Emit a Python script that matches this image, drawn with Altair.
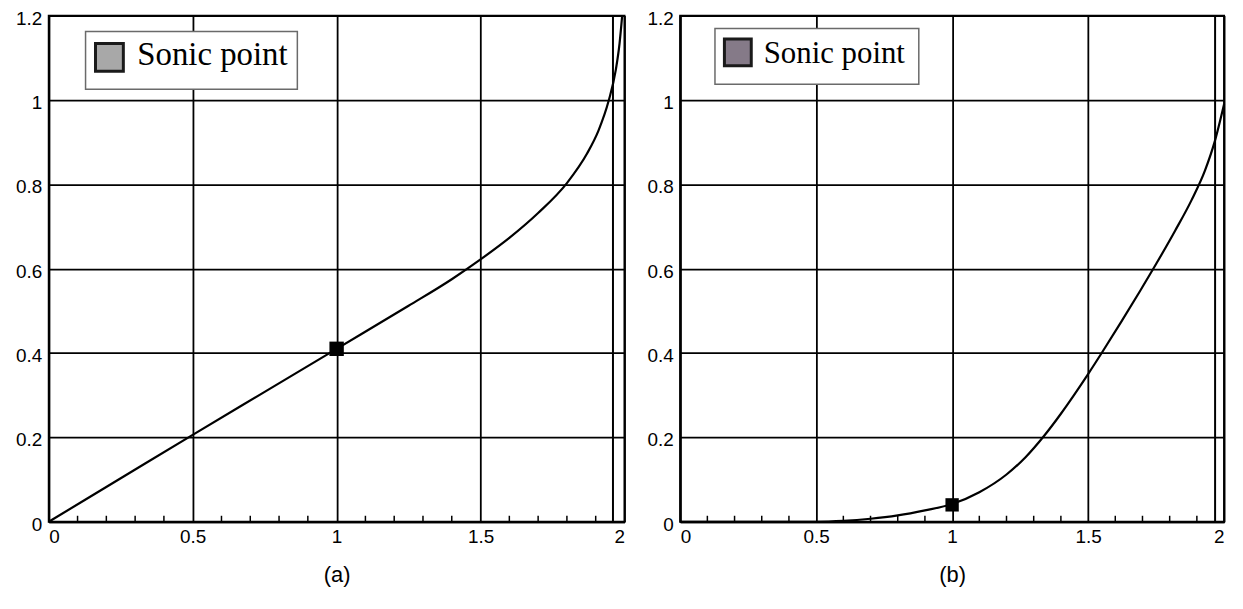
import altair as alt
import pandas as pd

# ---- data ----
xa = [0, 0.25, 0.5, 0.75, 1.0, 1.25, 1.4, 1.5, 1.6, 1.7, 1.8, 1.87, 1.91, 1.945, 1.97, 1.983, 1.992]
ya = [0, 0.103, 0.206, 0.308, 0.41, 0.512, 0.575, 0.622, 0.673, 0.732, 0.803, 0.873, 0.928, 0.998, 1.072, 1.135, 1.2]

xb = [0, 0.5, 0.6, 0.7, 0.8, 0.9, 1.0, 1.1, 1.2, 1.27, 1.34, 1.4, 1.45, 1.5, 1.55, 1.62, 1.69, 1.75, 1.82, 1.88, 1.93, 1.965, 2.0]
yb = [0, 0, 0.002, 0.007, 0.015, 0.027, 0.042, 0.07, 0.112, 0.153, 0.205, 0.256, 0.302, 0.35, 0.40, 0.472, 0.546, 0.611, 0.69, 0.762, 0.833, 0.9, 0.99]

sonic_a = [1.0, 0.41]
sonic_b = [1.0, 0.04]
asym_a = [1.96]
asym_b = [1.967]

x_ticks = [0, 0.5, 1, 1.5, 2]
y_ticks = [0, 0.2, 0.4, 0.6, 0.8, 1, 1.2]
minor_x = [0.1, 0.2, 0.3, 0.4, 0.6, 0.7, 0.8, 0.9, 1.1, 1.2, 1.3, 1.4, 1.6, 1.7, 1.8, 1.9]
captions = ["(a)", "(b)"]
legend_label = ["Sonic point"]

H = 509


def panel(xs, ys, sonic, asym, caption, width, lg, sq_fill, marker_size):
    xsc = alt.Scale(domain=[0, 2], nice=False, zero=False)
    ysc = alt.Scale(domain=[0, 1.2], nice=False, zero=False)
    xaxis = alt.Axis(values=x_ticks, format="~g", grid=True, ticks=False,
                     labelPadding=6, title=caption, titleFont="Liberation Sans",
                     titleFontSize=22, titleFontWeight="normal", titlePadding=18,
                     titleColor="black")
    yaxis = alt.Axis(values=y_ticks, format="~g", grid=True, ticks=False,
                     labelPadding=7, labelOffset=2.5, title=None)

    curve = alt.Chart(pd.DataFrame({"x": xs, "y": ys})).mark_line(
        color="black", strokeWidth=2.2, interpolate="monotone"
    ).encode(x=alt.X("x:Q", scale=xsc, axis=xaxis), y=alt.Y("y:Q", scale=ysc, axis=yaxis))

    asym_rule = alt.Chart(pd.DataFrame({"x": asym})).mark_rule(
        color="black", strokeWidth=2
    ).encode(x=alt.X("x:Q", scale=xsc, axis=xaxis))

    minor = alt.Chart(pd.DataFrame({"x": minor_x})).mark_rule(
        color="black", strokeWidth=1.5
    ).encode(x=alt.X("x:Q", scale=xsc, axis=xaxis), y=alt.value(H), y2=alt.value(H - 6))

    marker = alt.Chart(pd.DataFrame({"x": [sonic[0]], "y": [sonic[1]]})).mark_square(
        color="black", opacity=1, size=marker_size
    ).encode(x=alt.X("x:Q", scale=xsc, axis=xaxis), y=alt.Y("y:Q", scale=ysc, axis=yaxis))

    ldf = pd.DataFrame({"label": legend_label})
    box = alt.Chart(ldf).mark_rect(fill="white", stroke="#6a6a6a", strokeWidth=1.5).encode(
        x=alt.value(lg["x1"]), x2=alt.value(lg["x2"]), y=alt.value(lg["y1"]), y2=alt.value(lg["y2"])
    )
    sq = alt.Chart(ldf).mark_square(fill=sq_fill, stroke="#1a1a1a", strokeWidth=3,
                                    opacity=1, size=lg["sq"] ** 2).encode(
        x=alt.value(lg["sx"]), y=alt.value(lg["sy"])
    )
    txt = alt.Chart(ldf).mark_text(align="left", baseline="alphabetic",
                                   font="Liberation Serif", fontSize=lg["fs"],
                                   color="black").encode(
        x=alt.value(lg["tx"]), y=alt.value(lg["ty"]), text="label:N"
    )

    return alt.layer(asym_rule, minor, curve, marker, box, sq, txt).properties(
        width=width, height=H
    )


lg_a = dict(x1=37, x2=250, y1=16, y2=74, sx=61, sy=42, sq=28, tx=89, ty=50, fs=33)
lg_b = dict(x1=35, x2=240, y1=13, y2=69, sx=58, sy=37, sq=27, tx=84, ty=48, fs=31)

left = panel(xa, ya, sonic_a, asym_a, captions[0], 579, lg_a, "#a8a8a8", 210)
right = panel(xb, yb, sonic_b, asym_b, captions[1], 547, lg_b, "#857a88", 180)

chart = alt.hconcat(left, right, spacing=56, bounds="flush").properties(
    padding={"left": 6, "top": -2, "right": 5, "bottom": 5}
).configure_view(
    stroke="black", strokeWidth=2
).configure_axis(
    gridColor="black", gridWidth=1.8, gridOpacity=1,
    domainColor="black", domainWidth=2,
    labelFont="Liberation Sans", labelFontSize=19, labelColor="black"
)

chart.save("out.html", embed_options={"renderer": "svg", "actions": False})
